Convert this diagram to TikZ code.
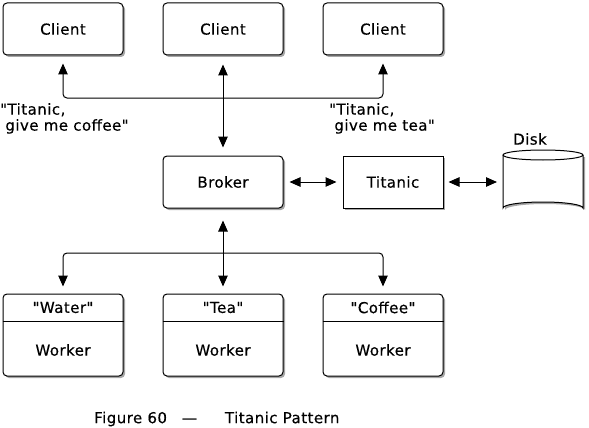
\documentclass[tikz,border=0pt]{standalone}
\usepackage{fontspec}
\setmainfont{DejaVu Sans}[Ligatures=TeXOff,LetterSpace=3,FakeBold=0.4]
\usetikzlibrary{arrows.meta,shadows}
\begin{document}
\begin{tikzpicture}[x=1pt,y=-1pt,
  font=\fontsize{15}{16}\selectfont,
  shade/.style={drop shadow={shadow xshift=2pt,shadow yshift=-2pt,fill=black!35,opacity=1}},
  box/.style={draw,fill=white,line width=1pt,rounded corners=4pt,minimum width=120pt,minimum height=52pt,inner sep=0pt,shade},
  sqbox/.style={box,rounded corners=0pt,minimum width=100pt},
  wbox/.style={box,minimum height=82pt},
  conn/.style={line width=1pt,rounded corners=4pt},
  tp/.tip={Triangle[length=11pt,width=9.5pt]},
  tip/.style={-tp,shorten >=8pt},
  dtip/.style={tp-tp},
  lbl/.style={inner sep=0pt,align=left,anchor=north west}]
\useasboundingbox (0,0) rectangle (589,428);
% clients
\node[box] (c1) at (63,29) {Client};
\node[box] (c2) at (223,29) {Client};
\node[box] (c3) at (383,29) {Client};
% middle
\node[box] (broker) at (223,182) {Broker};
\node[sqbox] (titanic) at (393,182) {Titanic};
% disk
\fill[black!35] (505,157) -- (505,210) arc[start angle=180,end angle=360,x radius=40,y radius=6] -- (585,157) -- cycle;
\draw[line width=1pt,fill=white] (503,155) -- (503,208) arc[start angle=180,end angle=360,x radius=40,y radius=6] -- (583,155);
\draw[line width=1pt,fill=white] (543,155) ellipse[x radius=40,y radius=5];
\node[inner sep=0pt] (disklbl) at (530,139) {Disk};
\coordinate (diskw) at (503,182);
% workers
\node[wbox] (w1) at (63,335) {};
\node[wbox] (w2) at (223,335) {};
\node[wbox] (w3) at (383,335) {};
\foreach \w/\t in {w1/"Water",w2/"Tea",w3/"Coffee"}{
  \draw[line width=1pt] ([yshift=-28pt]\w.north west) -- ([yshift=-28pt]\w.north east);
  \node[inner sep=0pt] (\w h) at ([yshift=-14pt]\w.north) {\t};
  \node[inner sep=0pt] (\w b) at ([yshift=-15pt]\w.center) {Worker};
}
% top connectors
\coordinate (jt) at (223,98);
\draw[conn,tip] (jt) -| (c1.south);
\draw[conn,tip] (jt) -| (c3.south);
\draw[conn,dtip,shorten >=8pt,shorten <=9pt] (c2.south) -- (broker.north);
% middle connectors
\draw[conn,dtip,shorten >=6pt,shorten <=6pt] (broker.east) -- (titanic.west);
\draw[conn,dtip,shorten >=6pt,shorten <=5pt] (titanic.east) -- (diskw);
% bottom connectors
\coordinate (jb) at (223,253);
\draw[conn,tip,shorten >=12pt] (jb) -- (broker.south);
\draw[conn,tip,shorten >=7pt] (jb) -| (w1.north);
\draw[conn,tip,shorten >=7pt] (jb) -| (w3.north);
\draw[conn,tip,shorten >=7pt] (jb) -- (w2.north);
% labels
\node[lbl] (l1) at (0,103) {"Titanic,\\\ give me coffee"};
\node[lbl] (l2) at (329,103) {"Titanic,\\\ give me tea"};
\node[inner sep=0pt,anchor=west] (cap) at (94,419) {Figure 60\hspace{15pt}—\hspace{28pt}Titanic Pattern};
\end{tikzpicture}
\end{document}
